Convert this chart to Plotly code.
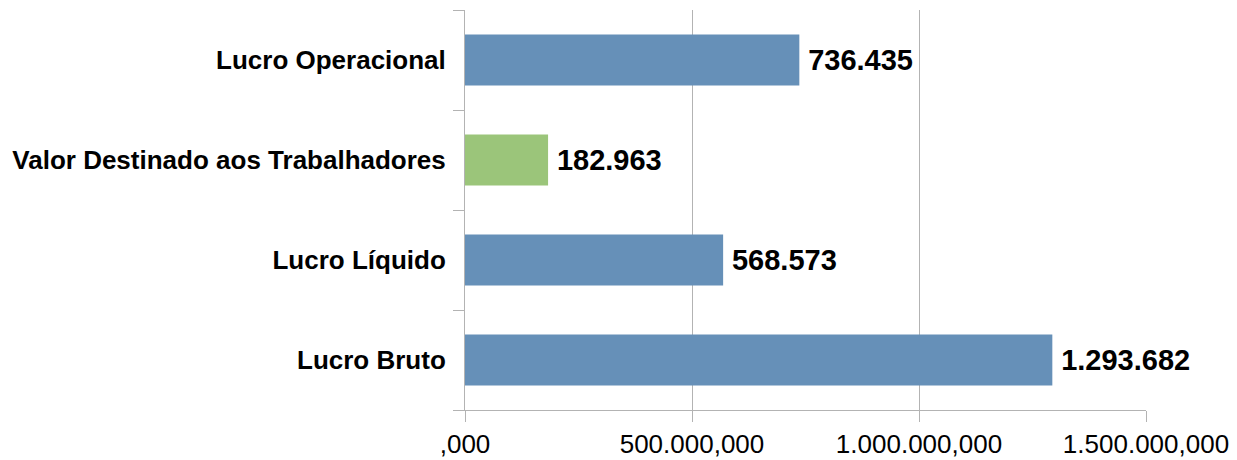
import plotly.graph_objects as go

categories = ["Lucro Bruto", "Lucro Líquido", "Valor Destinado aos Trabalhadores", "Lucro Operacional"]
values = [1293682000, 568573000, 182963000, 736435000]
value_labels = ["1.293.682", "568.573", "182.963", "736.435"]
bar_colors = ["#6690b8", "#6690b8", "#9bc57a", "#6690b8"]
tick_values = [0, 500000000, 1000000000, 1500000000]
tick_labels = [",000", "500.000,000", "1.000.000,000", "1.500.000,000"]

FONT = "Liberation Sans"

fig = go.Figure(
    go.Bar(
        y=categories,
        x=values,
        orientation="h",
        marker=dict(color=bar_colors, line=dict(width=0)),
        text=value_labels,
        texttemplate="\u2009%{text}",
        textposition="outside",
        textfont=dict(family=FONT, size=29, color="#000000", weight="bold"),
        cliponaxis=False,
        constraintext="none",
        hoverinfo="skip",
    )
)

fig.update_layout(
    width=1237,
    height=460,
    margin=dict(l=465, r=91, t=10, b=50, autoexpand=False),
    paper_bgcolor="#ffffff",
    plot_bgcolor="#ffffff",
    bargap=0.49,
    showlegend=False,
    font=dict(family=FONT, color="#000000"),
)

fig.update_xaxes(
    range=[0, 1500000000],
    tickvals=tick_values,
    ticktext=tick_labels,
    automargin=False,
    showgrid=True,
    gridcolor="#b3b3b3",
    gridwidth=1,
    zeroline=False,
    showline=True,
    linecolor="#b3b3b3",
    linewidth=1,
    ticks="outside",
    ticklen=11,
    tickcolor="#b3b3b3",
    tickfont=dict(family=FONT, size=26, color="#000000"),
)

fig.update_yaxes(
    categoryorder="array",
    categoryarray=categories,
    automargin=False,
    showgrid=False,
    zeroline=False,
    showline=True,
    linecolor="#b3b3b3",
    linewidth=1,
    ticks="outside",
    tickson="boundaries",
    ticklen=11,
    tickcolor="#b3b3b3",
    ticklabelstandoff=13,
    tickfont=dict(family=FONT, size=26, color="#000000", weight="bold"),
)

fig.write_html(
    "out.html",
    config={"displayModeBar": False, "staticPlot": True},
    post_script="document.body.style.margin='0px';document.body.style.overflow='hidden';",
)
